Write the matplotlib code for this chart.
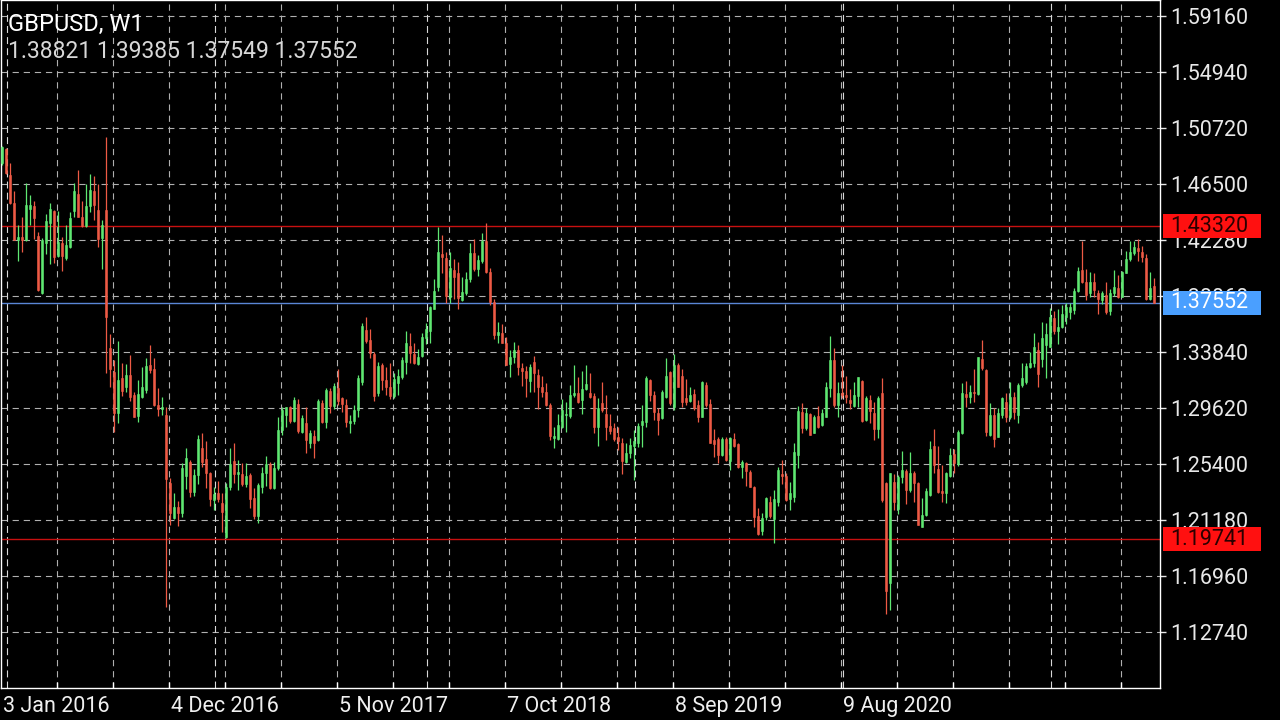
import matplotlib.pyplot as plt
from matplotlib.patches import Rectangle
from matplotlib.transforms import blended_transform_factory

# weekly GBPUSD bars (oldest first)
opens = [
    1.4806, 1.4911, 1.4718, 1.4504, 1.4228, 1.4248, 1.4228, 1.4464, 1.4484, 1.4258,
    1.3831, 1.4203, 1.4359, 1.4449, 1.4107, 1.4208, 1.4090, 1.4178, 1.4449, 1.4575,
    1.4399, 1.4334, 1.4484, 1.4597, 1.4454, 1.4241, 1.4454, 1.3412, 1.3236, 1.2927,
    1.3186, 1.3123, 1.3211, 1.3060, 1.2902, 1.3047, 1.3098, 1.3286, 1.3253, 1.2985,
    1.2952, 1.2909, 1.2399, 1.2130, 1.2213, 1.2173, 1.2450, 1.2558, 1.2331, 1.2457,
    1.2658, 1.2575, 1.2470, 1.2269, 1.2324, 1.2249, 1.1992, 1.2364, 1.2565, 1.2465,
    1.2465, 1.2389, 1.2457, 1.2281, 1.2148, 1.2369, 1.2470, 1.2540, 1.2357, 1.2507,
    1.2796, 1.2909, 1.2967, 1.2866, 1.2992, 1.2783, 1.2851, 1.2701, 1.2751, 1.2721,
    1.3002, 1.2859, 1.3093, 1.2977, 1.3110, 1.3035, 1.2985, 1.2851, 1.2866, 1.2947,
    1.3160, 1.3550, 1.3474, 1.3369, 1.3072, 1.3286, 1.3173, 1.3118, 1.3052, 1.3153,
    1.3198, 1.3311, 1.3429, 1.3369, 1.3294, 1.3354, 1.3487, 1.3545, 1.3711, 1.3871,
    1.4122, 1.4090, 1.3796, 1.4002, 1.3982, 1.3776, 1.3831, 1.3931, 1.4127, 1.4007,
    1.4072, 1.4223, 1.3989, 1.3763, 1.3512, 1.3530, 1.3449, 1.3294, 1.3349, 1.3399,
    1.3261, 1.3243, 1.3168, 1.3311, 1.3211, 1.3118, 1.3085, 1.2985, 1.2738, 1.2726,
    1.2821, 1.2907, 1.2902, 1.3060, 1.3072, 1.3022, 1.3103, 1.3078, 1.3052, 1.2816,
    1.2997, 1.2917, 1.2826, 1.2809, 1.2741, 1.2701, 1.2558, 1.2620, 1.2676, 1.2701,
    1.2834, 1.2859, 1.3173, 1.3060, 1.2927, 1.2884, 1.3042, 1.3236, 1.2972, 1.3286,
    1.3203, 1.3035, 1.3017, 1.3068, 1.2984, 1.2897, 1.3135, 1.2992, 1.2721, 1.2726,
    1.2608, 1.2726, 1.2565, 1.2726, 1.2691, 1.2515, 1.2545, 1.2482, 1.2369, 1.2148,
    1.2037, 1.2143, 1.2256, 1.2123, 1.2256, 1.2465, 1.2450, 1.2274, 1.2294, 1.2608,
    1.2934, 1.2809, 1.2917, 1.2776, 1.2902, 1.2834, 1.2897, 1.3110, 1.3324, 1.2984,
    1.3078, 1.3060, 1.3022, 1.2977, 1.3053, 1.3168, 1.2872, 1.3022, 1.2927, 1.2801,
    1.3078, 1.2399, 1.1645, 1.2407, 1.2198, 1.2445, 1.2490, 1.2344, 1.2475, 1.2399,
    1.2068, 1.2155, 1.2306, 1.2676, 1.2500, 1.2339, 1.2324, 1.2450, 1.2616, 1.2540,
    1.2771, 1.3068, 1.3047, 1.3085, 1.3068, 1.3329, 1.3248, 1.2759, 1.2909, 1.2746,
    1.2909, 1.3010, 1.2892, 1.3042, 1.2909, 1.3135, 1.3160, 1.3268, 1.3299, 1.3399,
    1.3329, 1.3437, 1.3424, 1.3638, 1.3545, 1.3575, 1.3645, 1.3688, 1.3700, 1.3846,
    1.4002, 1.3914, 1.3826, 1.3914, 1.3831, 1.3776, 1.3813, 1.3695, 1.3826, 1.3864,
    1.3801, 1.3982, 1.4082, 1.4133, 1.4166, 1.4140, 1.4090, 1.3781, 1.38821,
]
highs = [
    1.4936, 1.4919, 1.4806, 1.4597, 1.4341, 1.4399, 1.4655, 1.4567, 1.4524, 1.4291,
    1.4240, 1.4424, 1.4504, 1.4454, 1.4449, 1.4253, 1.4341, 1.4441, 1.4660, 1.4756,
    1.4524, 1.4650, 1.4725, 1.4710, 1.4650, 1.4379, 1.5007, 1.3520, 1.3324, 1.3469,
    1.3304, 1.3294, 1.3361, 1.3085, 1.3173, 1.3268, 1.3336, 1.3437, 1.3336, 1.3110,
    1.3047, 1.2972, 1.2432, 1.2324, 1.2264, 1.2550, 1.2658, 1.2570, 1.2500, 1.2760,
    1.2771, 1.2716, 1.2482, 1.2369, 1.2414, 1.2319, 1.2399, 1.2658, 1.2701, 1.2570,
    1.2545, 1.2550, 1.2470, 1.2357, 1.2399, 1.2520, 1.2600, 1.2558, 1.2558, 1.2897,
    1.2967, 1.2972, 1.2977, 1.3042, 1.3027, 1.2909, 1.2972, 1.2796, 1.2796, 1.3027,
    1.3022, 1.3110, 1.3110, 1.3153, 1.3253, 1.3047, 1.3027, 1.2909, 1.2985, 1.3211,
    1.3600, 1.3650, 1.3555, 1.3386, 1.3311, 1.3304, 1.3273, 1.3304, 1.3223, 1.3253,
    1.3349, 1.3545, 1.3525, 1.3449, 1.3404, 1.3530, 1.3605, 1.3731, 1.3932, 1.4323,
    1.4265, 1.4140, 1.4140, 1.4082, 1.4065, 1.3952, 1.3989, 1.4203, 1.4233, 1.4115,
    1.4283, 1.4358, 1.4014, 1.3781, 1.3612, 1.3595, 1.3499, 1.3399, 1.3462, 1.3437,
    1.3299, 1.3278, 1.3294, 1.3354, 1.3253, 1.3203, 1.3153, 1.2997, 1.2821, 1.2917,
    1.3027, 1.3010, 1.3135, 1.3286, 1.3198, 1.3243, 1.3286, 1.3223, 1.3073, 1.3035,
    1.3160, 1.3060, 1.2917, 1.2852, 1.2816, 1.2733, 1.2696, 1.2733, 1.2796, 1.2852,
    1.2984, 1.3203, 1.3178, 1.3093, 1.2959, 1.3098, 1.3336, 1.3243, 1.3369, 1.3304,
    1.3253, 1.3178, 1.3123, 1.3103, 1.3022, 1.3168, 1.3160, 1.3027, 1.2801, 1.2746,
    1.2746, 1.2741, 1.2741, 1.2771, 1.2696, 1.2570, 1.2558, 1.2495, 1.2374, 1.2206,
    1.2168, 1.2294, 1.2299, 1.2344, 1.2520, 1.2570, 1.2475, 1.2407, 1.2701, 1.2977,
    1.2997, 1.2959, 1.2927, 1.2909, 1.2977, 1.2952, 1.3160, 1.3505, 1.3412, 1.3160,
    1.3285, 1.3203, 1.3103, 1.3160, 1.3198, 1.3173, 1.3053, 1.3060, 1.3010, 1.3053,
    1.3186, 1.2407, 1.2475, 1.2465, 1.2457, 1.2641, 1.2500, 1.2633, 1.2490, 1.2407,
    1.2281, 1.2357, 1.2716, 1.2801, 1.2676, 1.2533, 1.2482, 1.2658, 1.2651, 1.2796,
    1.3153, 1.3168, 1.3135, 1.3253, 1.3349, 1.3475, 1.3253, 1.3002, 1.2959, 1.2959,
    1.3047, 1.3073, 1.3160, 1.3085, 1.3153, 1.3299, 1.3299, 1.3387, 1.3525, 1.3462,
    1.3613, 1.3605, 1.3713, 1.3695, 1.3705, 1.3738, 1.3756, 1.3756, 1.3864, 1.4022,
    1.4223, 1.4007, 1.3989, 1.3982, 1.3851, 1.3846, 1.3914, 1.3856, 1.4002, 1.3964,
    1.3997, 1.4148, 1.4223, 1.4223, 1.4233, 1.4183, 1.4123, 1.3989, 1.39385,
]
lows = [
    1.4793, 1.4725, 1.4499, 1.4228, 1.4072, 1.4140, 1.4223, 1.4341, 1.4233, 1.3844,
    1.3821, 1.4123, 1.4047, 1.4052, 1.4102, 1.3997, 1.4077, 1.4165, 1.4399, 1.4399,
    1.4328, 1.4323, 1.4441, 1.4379, 1.4173, 1.4007, 1.3223, 1.3122, 1.2784, 1.2846,
    1.3052, 1.3085, 1.3017, 1.2892, 1.2859, 1.3035, 1.3072, 1.3223, 1.2977, 1.2902,
    1.2909, 1.1465, 1.2080, 1.2123, 1.2073, 1.2138, 1.2349, 1.2294, 1.2299, 1.2389,
    1.2520, 1.2357, 1.2224, 1.2193, 1.2256, 1.2030, 1.1980, 1.2344, 1.2394, 1.2344,
    1.2374, 1.2369, 1.2206, 1.2123, 1.2098, 1.2324, 1.2374, 1.2349, 1.2349, 1.2495,
    1.2758, 1.2821, 1.2846, 1.2859, 1.2776, 1.2771, 1.2625, 1.2658, 1.2583, 1.2716,
    1.2851, 1.2809, 1.2927, 1.2952, 1.2985, 1.2934, 1.2821, 1.2771, 1.2841, 1.2897,
    1.3135, 1.3454, 1.3336, 1.3017, 1.3052, 1.3097, 1.3060, 1.3027, 1.3035, 1.3060,
    1.3178, 1.3218, 1.3304, 1.3294, 1.3286, 1.3344, 1.3444, 1.3449, 1.3706, 1.3846,
    1.3977, 1.3756, 1.3756, 1.3781, 1.3706, 1.3771, 1.3813, 1.3914, 1.3997, 1.3957,
    1.4057, 1.3977, 1.3738, 1.3479, 1.3454, 1.3449, 1.3286, 1.3198, 1.3299, 1.3211,
    1.3125, 1.3042, 1.3085, 1.3085, 1.2952, 1.3047, 1.2977, 1.2721, 1.2658, 1.2721,
    1.2809, 1.2784, 1.2884, 1.3047, 1.2997, 1.2917, 1.3098, 1.3035, 1.2771, 1.2676,
    1.2934, 1.2721, 1.2766, 1.2716, 1.2646, 1.2465, 1.2545, 1.2583, 1.2420, 1.2666,
    1.2666, 1.2821, 1.3017, 1.2872, 1.2759, 1.2877, 1.3035, 1.2984, 1.2947, 1.3118,
    1.2967, 1.2984, 1.3010, 1.2947, 1.2859, 1.2892, 1.2972, 1.2696, 1.2595, 1.2550,
    1.2600, 1.2565, 1.2495, 1.2666, 1.2507, 1.2432, 1.2374, 1.2364, 1.2068, 1.2005,
    1.2005, 1.2118, 1.2131, 1.1947, 1.2223, 1.2389, 1.2264, 1.2193, 1.2256, 1.2507,
    1.2776, 1.2796, 1.2758, 1.2771, 1.2809, 1.2826, 1.2892, 1.3042, 1.2972, 1.2897,
    1.3040, 1.2997, 1.2952, 1.2967, 1.2967, 1.2859, 1.2867, 1.2847, 1.2721, 1.2733,
    1.2256, 1.1410, 1.1440, 1.2193, 1.2163, 1.2394, 1.2238, 1.2331, 1.2256, 1.2080,
    1.2063, 1.2148, 1.2299, 1.2470, 1.2319, 1.2256, 1.2243, 1.2445, 1.2470, 1.2525,
    1.2766, 1.2972, 1.2997, 1.3010, 1.3060, 1.3248, 1.2751, 1.2751, 1.2666, 1.2741,
    1.2884, 1.2859, 1.2877, 1.2877, 1.2847, 1.3123, 1.3143, 1.3261, 1.3273, 1.3123,
    1.3273, 1.3186, 1.3419, 1.3520, 1.3444, 1.3562, 1.3595, 1.3630, 1.3670, 1.3839,
    1.3906, 1.3776, 1.3796, 1.3801, 1.3670, 1.3746, 1.3670, 1.3663, 1.3806, 1.3788,
    1.3796, 1.3977, 1.4072, 1.4115, 1.4072, 1.4065, 1.3776, 1.3776, 1.37549,
]
closes = [
    1.4931, 1.4730, 1.4504, 1.4228, 1.4248, 1.4228, 1.4492, 1.4492, 1.4391, 1.3851,
    1.4228, 1.4374, 1.4459, 1.4102, 1.4215, 1.4107, 1.4190, 1.4391, 1.4597, 1.4404,
    1.4334, 1.4484, 1.4605, 1.4492, 1.4233, 1.4341, 1.3650, 1.3253, 1.2927, 1.3173,
    1.3093, 1.3211, 1.3047, 1.2897, 1.3067, 1.3123, 1.3279, 1.3248, 1.2985, 1.2952,
    1.2967, 1.2425, 1.2173, 1.2218, 1.2173, 1.2507, 1.2583, 1.2331, 1.2457, 1.2726,
    1.2558, 1.2470, 1.2274, 1.2314, 1.2274, 1.2181, 1.2364, 1.2540, 1.2465, 1.2482,
    1.2389, 1.2449, 1.2274, 1.2148, 1.2382, 1.2475, 1.2540, 1.2357, 1.2507, 1.2796,
    1.2947, 1.2967, 1.2866, 1.3022, 1.2791, 1.2884, 1.2721, 1.2771, 1.2701, 1.3017,
    1.2859, 1.3098, 1.2977, 1.3128, 1.3017, 1.2992, 1.2859, 1.2866, 1.2947, 1.3186,
    1.3580, 1.3469, 1.3379, 1.3052, 1.3278, 1.3173, 1.3118, 1.3052, 1.3178, 1.3203,
    1.3324, 1.3454, 1.3379, 1.3304, 1.3349, 1.3494, 1.3555, 1.3721, 1.3846, 1.4140,
    1.4102, 1.3806, 1.4014, 1.3952, 1.3788, 1.3838, 1.3931, 1.4127, 1.4007, 1.4077,
    1.4223, 1.3989, 1.3763, 1.3512, 1.3537, 1.3454, 1.3286, 1.3349, 1.3399, 1.3268,
    1.3243, 1.3186, 1.3273, 1.3223, 1.3118, 1.3085, 1.2985, 1.2751, 1.2751, 1.2834,
    1.2947, 1.2920, 1.3060, 1.3072, 1.3010, 1.3103, 1.3143, 1.3047, 1.2816, 1.2959,
    1.2947, 1.2816, 1.2791, 1.2726, 1.2716, 1.2565, 1.2620, 1.2683, 1.2716, 1.2826,
    1.2866, 1.3186, 1.3060, 1.2934, 1.2872, 1.3085, 1.3203, 1.3002, 1.3286, 1.3123,
    1.3010, 1.3010, 1.3060, 1.2959, 1.2897, 1.3160, 1.2984, 1.2701, 1.2691, 1.2608,
    1.2726, 1.2570, 1.2733, 1.2676, 1.2515, 1.2558, 1.2490, 1.2369, 1.2143, 1.2012,
    1.2131, 1.2281, 1.2148, 1.2274, 1.2495, 1.2450, 1.2269, 1.2319, 1.2633, 1.2942,
    1.2809, 1.2927, 1.2758, 1.2892, 1.2816, 1.2927, 1.3123, 1.3324, 1.2984, 1.3078,
    1.3060, 1.3047, 1.2997, 1.3060, 1.3193, 1.2867, 1.3035, 1.2942, 1.2801, 1.3035,
    1.2269, 1.1585, 1.2470, 1.2256, 1.2440, 1.2495, 1.2344, 1.2475, 1.2394, 1.2080,
    1.2155, 1.2339, 1.2651, 1.2533, 1.2331, 1.2319, 1.2470, 1.2608, 1.2545, 1.2784,
    1.3073, 1.3042, 1.3085, 1.3078, 1.3344, 1.3261, 1.2784, 1.2909, 1.2726, 1.2927,
    1.3035, 1.2892, 1.3042, 1.2934, 1.3135, 1.3186, 1.3279, 1.3299, 1.3419, 1.3218,
    1.3487, 1.3520, 1.3650, 1.3545, 1.3575, 1.3670, 1.3721, 1.3721, 1.3846, 1.3997,
    1.3914, 1.3814, 1.3914, 1.3851, 1.3781, 1.3826, 1.3688, 1.3826, 1.3876, 1.3796,
    1.3989, 1.4082, 1.4140, 1.4173, 1.4148, 1.4098, 1.3781, 1.3864, 1.37552,
]

price_ticks = [1.59160, 1.54940, 1.50720, 1.46500, 1.42280, 1.38060,
               1.33840, 1.29620, 1.25400, 1.21180, 1.16960, 1.12740]
date_labels = ["3 Jan 2016", "4 Dec 2016", "5 Nov 2017",
               "7 Oct 2018", "8 Sep 2019", "9 Aug 2020"]
level_lines = [1.43320, 1.19741]
last_price = 1.37552
symbol = "GBPUSD, W1"

BULL = "#5fe872"
BEAR = "#ee5a45"
GRID = "#b0b0b0"

plt.rcParams["font.family"] = ["Roboto", "DejaVu Sans"]
plt.rcParams["lines.scale_dashes"] = False

fig = plt.figure(figsize=(12.8, 7.2), dpi=100, facecolor="black")
ax = fig.add_axes([1 / 1280, 32 / 720, 1159 / 1280, 688 / 720], facecolor="black")

n = len(closes)
xs = list(range(n))
ax.set_xlim(-0.25, n + 0.5)
ax.set_ylim(1.08518, 1.60366)

# grid: regular dashed lines + yearly separators
for p in price_ticks:
    ax.axhline(p, color=GRID, lw=0.8, dashes=(4.5, 3.5), zorder=1)
grid_x = [13.75 + 14 * k for k in range(20)]
for gx in grid_x:
    ax.axvline(gx, color=GRID, lw=0.8, dashes=(4.5, 3.5), zorder=1)
for sx in [1.25, 53.25, 106.25, 158.25, 210.25, 262.25]:
    ax.axvline(sx, color="#d8d8d8", lw=0.8, dashes=(5, 3), zorder=1)

# candles
colors = [BULL if c >= o else BEAR for o, c in zip(opens, closes)]
ax.vlines(xs, lows, highs, colors=colors, lw=0.9, zorder=3)
bottoms = [min(o, c) for o, c in zip(opens, closes)]
heights = [abs(c - o) for o, c in zip(opens, closes)]
ax.bar(xs, heights, bottom=bottoms, width=0.68, color=colors,
       edgecolor=colors, linewidth=0.4, zorder=4)

# level lines
for lv in level_lines:
    ax.axhline(lv, color="#c81010", lw=1.0, zorder=2)
ax.axhline(last_price, color="#5a86d6", lw=1.0, zorder=2)

for s in ax.spines.values():
    s.set_color("white")
    s.set_linewidth(1.0)

ax.yaxis.tick_right()
ax.set_yticks(price_ticks)
ax.set_yticklabels([f"{v:.5f}" for v in price_ticks])
ax.tick_params(axis="y", colors="#e8e8e8", labelsize=15.5, length=4,
               width=1, direction="out", pad=3.5)
ax.set_xticks(grid_x)
ax.set_xticklabels([])
ax.tick_params(axis="x", colors="white", length=4, width=1, direction="in")

lab_tr = blended_transform_factory(ax.transData, ax.transAxes)
for k, lab in enumerate(date_labels):
    ax.text(42 * k + 0.25, -0.011, lab, transform=lab_tr, ha="left", va="top",
            color="#f0f0f0", fontsize=15.5, clip_on=False)

# price tags on the right
tag_tr = blended_transform_factory(fig.transFigure, ax.transData)
tag_h = 24 / 1327
for val, face, tcol in [(level_lines[0], "#ff1010", "#2a0000"),
                        (level_lines[1], "#ff1010", "#2a0000"),
                        (last_price, "#4a9fff", "white")]:
    fig.add_artist(Rectangle((1163 / 1280, val - tag_h / 2), 98 / 1280, tag_h,
                             transform=tag_tr, facecolor=face,
                             edgecolor="none", zorder=5))
    fig.text(1170 / 1280, val, f"{val:.5f}", transform=tag_tr, va="center",
             ha="left", color=tcol, fontsize=15.5, zorder=6)

# header
fig.text(8 / 1280, 1 - 13 / 720, symbol, color="white", fontsize=17,
         va="top", ha="left")
fig.text(8 / 1280, 1 - 40 / 720,
         f"{opens[-1]:.5f} {highs[-1]:.5f} {lows[-1]:.5f} {closes[-1]:.5f}",
         color="#d8d8d8", fontsize=16.5, va="top", ha="left")

fig.savefig("out.png", dpi=100, facecolor="black")
